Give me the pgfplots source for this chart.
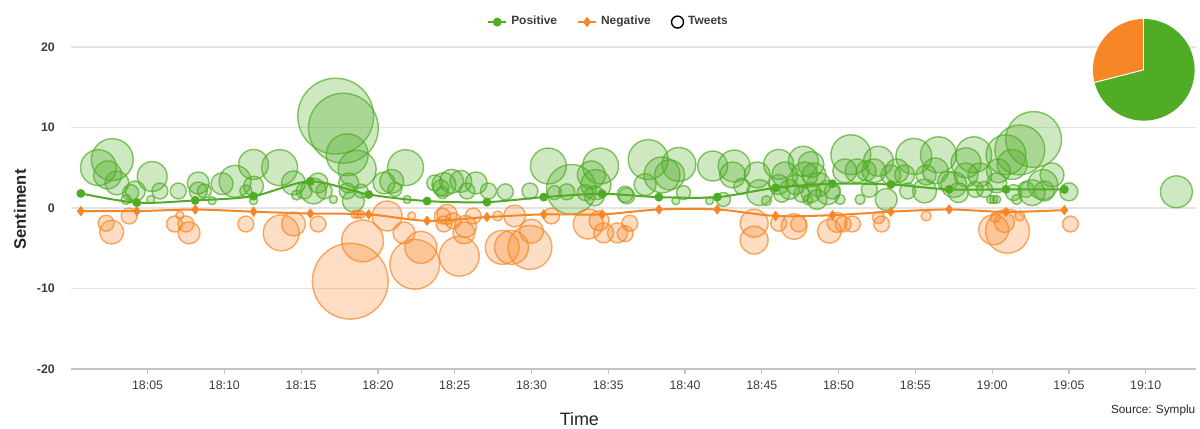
\documentclass[border=0pt]{standalone}
\usepackage{fontspec}
\setmainfont{Liberation Sans}
\usepackage{pgfplots}
\pgfplotsset{compat=1.18}
\usepackage{pgfplotstable}
\definecolor{gcol}{RGB}{80,172,36}
\definecolor{ocol}{RGB}{247,134,38}
\definecolor{gridc}{RGB}{228,228,228}
\definecolor{axc}{RGB}{195,195,195}
\definecolor{lab}{RGB}{60,60,60}

% minutes after 18:00, sentiment, bubble radius (px)
\pgfplotstableread{
x y r
2.7 6.0 21
1.8 5.0 18
2.4 4.1 14
3.0 3.1 12
5.3 3.9 15
4.2 2.1 10
3.9 1.9 8
3.6 1.05 5
5.8 2.1 8
5.2 1.05 4
7.0 2.1 8
8.3 3.1 11
8.3 2.1 9
8.7 2.1 7
9.2 0.9 4
9.85 3.0 11
10.7 3.3 16
11.9 5.4 15
11.9 2.7 10
11.9 0.9 4
11.4 2.1 6
17.25 11.4 38
17.75 9.9 35
18.0 6.6 21
18.65 4.8 19
13.6 5.0 18
14.5 3.1 12
16.1 3.1 10
15.8 2.1 13
15.2 2.1 8
14.7 1.6 5
16.5 2.1 8
17.1 1.05 4
18.1 3.1 10
18.0 2.1 8
18.4 0.85 11
18.9 2.1 7
20.4 3.1 11
20.9 3.3 12
21.1 2.3 7
21.8 5.0 18
21.9 1.05 4
23.7 3.1 8
24.1 2.5 8
24.2 1.9 6
24.3 2.9 12
24.8 3.3 12
25.4 3.3 11
25.8 2.1 8
26.4 3.1 11
27.2 2.1 8
28.3 2.0 8
29.9 2.1 8
31.1 5.2 18
32.6 2.3 25
31.5 1.9 7
32.3 2.0 8
34.5 5.2 18
33.9 4.1 14
34.2 2.9 15
33.5 1.9 8
34.1 1.5 10
36.1 1.7 8
37.6 6.0 20
38.5 4.1 18
39.0 4.1 15
39.6 5.4 17
37.4 2.9 11
39.9 1.9 7
39.4 0.9 4
36.2 1.5 8
41.8 5.2 15
43.2 5.2 16
43.1 4.1 13
42.5 1.05 7
41.6 0.9 4
44.7 4.1 13
44.85 1.9 13
46.1 5.4 15
47.7 5.8 15
46.5 4.1 13
47.8 4.1 13
46.1 2.9 10
46.8 2.3 10
47.2 2.9 10
47.6 1.7 8
46.3 1.7 8
48.0 1.0 5
45.3 0.9 5
43.7 2.7 8
48.2 5.4 13
48.4 4.1 12
48.7 2.9 12
48.2 1.9 10
48.6 1.05 10
49.3 1.9 12
50.1 1.05 5
49.6 2.1 8
50.8 6.6 20
50.4 4.6 12
51.2 4.6 12
52.3 4.6 12
52.6 5.8 15
51.8 4.6 10
51.4 1.05 5
52.0 2.3 8
53.1 1.05 11
53.8 4.6 12
53.4 4.1 10
54.3 4.1 10
54.5 2.1 8
54.9 6.4 18
55.6 2.1 12
55.7 4.1 10
56.5 6.6 18
56.3 4.6 13
57.1 3.3 10
57.5 2.9 13
57.8 1.9 10
58.3 5.6 15
58.8 6.6 18
58.3 4.1 12
59.2 4.1 12
58.9 2.3 8
59.5 2.3 8
59.9 1.05 4
60.1 1.05 4
60.3 1.05 4
62.7 8.5 28
61.8 7.2 25
60.9 6.6 20
61.3 5.4 15
60.4 4.6 12
60.3 3.1 10
63.9 4.1 12
63.3 2.9 15
62.6 1.9 13
63.4 2.1 10
62.2 2.3 8
61.4 1.9 8
61.6 1.05 5
65.0 2.0 9
72.0 2.0 16
}\posbub

\pgfplotstableread{
x y r
2.3 -1.9 8
2.66 -3.0 12
3.8 -1.0 8
6.75 -2.0 8
7.1 -0.9 4
7.5 -2.0 8
7.7 -3.1 11
11.4 -2.0 8
13.7 -3.1 18
14.5 -2.0 12
16.1 -2.0 8
18.2 -9.1 38
19.0 -4.1 21
18.5 -0.8 4
18.7 -0.8 4
18.9 -0.8 4
20.6 -1.0 15
22.2 -1.0 4
21.7 -3.1 11
22.8 -4.9 16
22.4 -7.0 25
24.2 -1.0 8
24.5 -0.8 10
24.9 -1.6 8
24.3 -2.0 8
25.7 -2.3 11
25.6 -3.1 11
26.2 -1.0 8
25.3 -6.0 20
27.8 -1.0 5
28.9 -1.0 11
28.1 -4.9 17
28.7 -4.9 17
29.9 -4.9 22
30.0 -2.9 12
31.3 -1.0 8
33.7 -2.0 15
34.4 -1.6 10
34.7 -3.1 10
35.6 -3.1 10
36.4 -1.9 8
36.1 -3.2 8
44.5 -1.9 14
44.5 -4.0 14
46.1 -1.9 8
47.1 -2.3 13
47.4 -2.0 8
49.4 -2.9 12
49.9 -1.8 10
50.9 -2.0 8
50.3 -2.0 8
52.6 -1.2 6
52.8 -2.0 8
55.7 -1.0 5
60.1 -2.7 15
61.0 -2.9 22
60.8 -1.8 10
60.2 -1.2 5
61.8 -1.0 5
65.1 -2.0 8
}\negbub

\pgfplotstableread{
x y
0.65 1.8
4.3 0.65
8.1 0.93
11.9 1.46
15.6 3.3
19.4 1.67
23.2 0.85
27.1 0.72
30.8 1.34
34.6 1.75
38.3 1.34
42.1 1.34
45.9 2.5
49.6 3.0
53.4 2.9
57.2 2.3
60.9 2.3
64.7 2.3
}\posline

\pgfplotstableread{
x y
0.65 -0.4
4.3 -0.4
8.1 -0.2
11.9 -0.47
15.6 -0.7
19.4 -0.8
23.2 -1.6
27.1 -1.14
30.8 -0.8
34.6 -0.8
38.3 -0.19
42.1 -0.19
45.9 -1.0
49.6 -0.9
53.4 -0.47
57.2 -0.19
60.9 -0.5
64.7 -0.27
}\negline

\pgfplotsset{
  bub/.style={scatter, only marks, mark=*, forget plot,
    point meta=\thisrow{r},
    scatter/use mapped color={draw=#1, fill=#1, draw opacity=0.7, fill opacity=0.28},
    visualization depends on={\thisrow{r} \as \bubrad},
    scatter/@pre marker code/.append style={/tikz/mark size=0.5*\bubrad},
    line width=0.7pt},
  mylinelegend/.style={legend image code/.code={%
    \draw[##1] (0pt,0pt) -- (9pt,0pt);
    \draw[##1, only marks] plot coordinates {(4.5pt,0pt)};}},
  mycirclelegend/.style={legend image code/.code={%
    \draw[##1] (4.5pt,0pt) circle[radius=3pt];}},
}

\begin{document}
\begin{tikzpicture}
\begin{axis}[
  at={(0pt,0pt)}, anchor=south west,
  scale only axis, width=564pt, height=161.5pt,
  xmin=0, xmax=73.25, ymin=-20, ymax=20,
  clip marker paths=true,
  axis x line*=bottom, axis y line*=left,
  x axis line style={draw=axc, line width=0.7pt, -},
  y axis line style={draw=none},
  ymajorgrids, grid style={draw=gridc, line width=0.7pt},
  xtick={5,10,15,20,25,30,35,40,45,50,55,60,65,70},
  xticklabels={18:05,18:10,18:15,18:20,18:25,18:30,18:35,18:40,18:45,18:50,18:55,19:00,19:05,19:10},
  ytick={-20,-10,0,10,20},
  yticklabels={-20,-10,0,10,20},
  tick align=outside, major tick length=2.5pt,
  xtick style={draw=axc, line width=0.6pt},
  ytick style={draw=none},
  xticklabel style={font=\fontsize{6.2}{7}\selectfont, text=lab},
  yticklabel style={font=\bfseries\fontsize{6.2}{7}\selectfont, text=lab, xshift=-2pt},
  legend style={at={(0.479,1.077)}, anchor=center, draw=none, fill=none,
    legend columns=-1, font=\bfseries\fontsize{6}{7}\selectfont, text=lab,
    /tikz/every even column/.append style={column sep=8pt}},
  legend cell align=left,
]
\addlegendimage{gcol, line width=1pt, mark=*, mark size=1.7pt, mylinelegend}
\addlegendentry{Positive}
\addlegendimage{ocol, line width=1pt, mark=diamond*, mark size=1.8pt, mylinelegend}
\addlegendentry{Negative}
\addlegendimage{black, line width=0.7pt, mycirclelegend}
\addlegendentry{Tweets}

\addplot[bub=gcol] table[x=x, y=y] {\posbub};
\addplot[bub=ocol] table[x=x, y=y] {\negbub};
\addplot[gcol, line width=1pt, smooth, tension=0.5, mark=*, mark size=1.7pt, forget plot] table[x=x, y=y] {\posline};
\addplot[ocol, line width=1pt, smooth, tension=0.5, mark=diamond*, mark size=1.8pt, forget plot] table[x=x, y=y] {\negline};
\end{axis}

% pie of tweet shares (negative 29 %, positive 71 %)
\def\negshare{29}
\pgfmathsetmacro{\pieSplit}{90+3.6*\negshare}
\fill[ocol] (538pt,150pt) -- ++(90:25.5pt) arc[start angle=90, end angle=\pieSplit, radius=25.5pt] -- cycle;
\fill[gcol] (538pt,150pt) -- ++(\pieSplit:25.5pt) arc[start angle=\pieSplit, end angle=450, radius=25.5pt] -- cycle;
\draw[white, line width=0.5pt] (538pt,150pt) -- ++(90:25.5pt);
\draw[white, line width=0.5pt] (538pt,150pt) -- ++(\pieSplit:25.5pt);

\node[rotate=90, font=\bfseries\fontsize{8.3}{10}\selectfont, text=black!85] at (-25.5pt,80pt) {Sentiment};
\node[font=\fontsize{9}{11}\selectfont, text=black!85, inner sep=0pt] at (255pt,-25pt) {Time};
\node[anchor=east, font=\fontsize{5.9}{7}\selectfont, text=black!85, inner sep=0pt] at (564pt,-21pt) {Source: Symplu};

\useasboundingbox (-35.5pt,-30pt) rectangle (564.5pt,185pt);
\end{tikzpicture}
\end{document}
